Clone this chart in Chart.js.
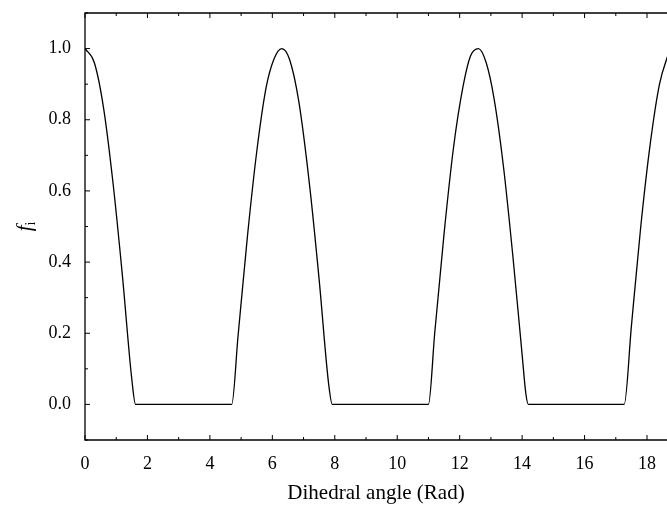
<!DOCTYPE html>
<html>
<head>
<meta charset="utf-8">
<script src="https://cdn.jsdelivr.net/npm/chart.js@4/dist/chart.umd.min.js"></script>
<style>
  html, body { margin: 0; padding: 0; background: #fff; }
  #wrap { width: 667px; height: 506px; }
</style>
</head>
<body>
<div id="wrap"><canvas id="fiChart" width="667" height="506"></canvas></div>
<script>
// dihedral angle (rad) and f_i
const angles = [0, 0.3, 0.6, 0.9, 1.2, 1.5, 1.62, 4.7, 4.9, 5.2, 5.5, 5.8, 6.05, 6.3, 6.55, 6.85, 7.2, 7.5, 7.8, 7.92,
                11.0, 11.2, 11.5, 11.8, 12.1, 12.35, 12.6, 12.85, 13.1, 13.4, 13.7, 14.0, 14.12, 14.2,
                17.27, 17.5, 17.8, 18.1, 18.4, 18.7];
const fValues = [1.0, 0.96, 0.83, 0.62, 0.36, 0.07, 0.0, 0.0, 0.19, 0.47, 0.71, 0.89, 0.97, 1.0, 0.97, 0.85, 0.61, 0.35, 0.06, 0.0,
                 0.0, 0.2, 0.48, 0.72, 0.89, 0.98, 1.0, 0.96, 0.86, 0.67, 0.42, 0.14, 0.03, 0.0,
                 0.0, 0.22, 0.5, 0.73, 0.9, 0.99];
const xTicks = [0, 2, 4, 6, 8, 10, 12, 14, 16, 18];
const yTicks = [0.0, 0.2, 0.4, 0.6, 0.8, 1.0];

const serif = '"Liberation Serif", "DejaVu Serif", serif';

// frame with inward ticks + the f_i axis title
const framePlugin = {
    id: 'frame',
    afterDraw(chart) {
        const ctx = chart.ctx;
        const a = chart.chartArea;
        const xs = chart.scales.x, ys = chart.scales.y;
        ctx.save();
        ctx.strokeStyle = '#000';
        ctx.lineWidth = 1.3;
        ctx.beginPath();
        ctx.moveTo(a.right + 2, a.top); ctx.lineTo(a.left, a.top);
        ctx.lineTo(a.left, a.bottom); ctx.lineTo(a.right + 2, a.bottom);
        ctx.stroke();

        ctx.lineWidth = 1;
        ctx.beginPath();
        for (let v = 0; v <= 19; v++) {
            const px = xs.getPixelForValue(v);
            if (px > a.right) break;
            const len = v % 2 === 0 ? 5 : 3;
            ctx.moveTo(px, a.bottom); ctx.lineTo(px, a.bottom - len);
            ctx.moveTo(px, a.top); ctx.lineTo(px, a.top + len);
        }
        for (let i = -1; i <= 11; i++) {
            const py = ys.getPixelForValue(i / 10);
            const len = i % 2 === 0 ? 5 : 3;
            ctx.moveTo(a.left, py); ctx.lineTo(a.left + len, py);
        }
        ctx.stroke();

        // y title: italic f with subscript i
        ctx.translate(31, (a.top + a.bottom) / 2);
        ctx.rotate(-Math.PI / 2);
        ctx.fillStyle = '#000';
        ctx.textBaseline = 'alphabetic';
        ctx.font = 'italic 21px ' + serif;
        const fw = ctx.measureText('f').width;
        ctx.font = '14px ' + serif;
        const iw = ctx.measureText('i').width;
        const x0 = -(fw + iw) / 2;
        ctx.font = 'italic 21px ' + serif;
        ctx.fillText('f', x0, 0);
        ctx.font = '14px ' + serif;
        ctx.fillText('i', x0 + fw, 4);
        ctx.restore();
    }
};

new Chart(document.getElementById('fiChart'), {
    type: 'line',
    data: {
        datasets: [{
            data: angles.map((x, i) => ({ x: x, y: fValues[i] })),
            borderColor: '#000',
            borderWidth: 1.3,
            pointRadius: 0,
            fill: false,
            cubicInterpolationMode: 'monotone'
        }]
    },
    options: {
        responsive: false,
        animation: false,
        layout: { padding: { top: 13, right: 0, left: 0, bottom: 0 } },
        plugins: { legend: { display: false }, tooltip: { enabled: false } },
        scales: {
            x: {
                type: 'linear',
                min: 0,
                max: 18.64,
                afterBuildTicks: s => { s.ticks = xTicks.map(v => ({ value: v })); },
                afterFit: s => { s.height = 66; s.paddingLeft = 0; s.paddingRight = 0; },
                grid: { display: false, drawTicks: false },
                border: { display: false },
                ticks: {
                    color: '#000',
                    font: { family: serif, size: 18 },
                    padding: 13,
                    maxRotation: 0,
                    autoSkip: false,
                    callback: v => String(v)
                },
                title: {
                    display: true,
                    text: 'Dihedral angle (Rad)',
                    color: '#000',
                    font: { family: serif, size: 21 },
                    padding: { top: 2, bottom: 0 }
                }
            },
            y: {
                min: -0.1,
                max: 1.1,
                afterBuildTicks: s => { s.ticks = yTicks.map(v => ({ value: v })); },
                afterFit: s => { s.width = 85; s.paddingTop = 0; s.paddingBottom = 0; },
                grid: { display: false, drawTicks: false },
                border: { display: false },
                ticks: {
                    color: '#000',
                    font: { family: serif, size: 18 },
                    padding: 14,
                    callback: v => v.toFixed(1)
                }
            }
        }
    },
    plugins: [framePlugin]
});
</script>
</body>
</html>
